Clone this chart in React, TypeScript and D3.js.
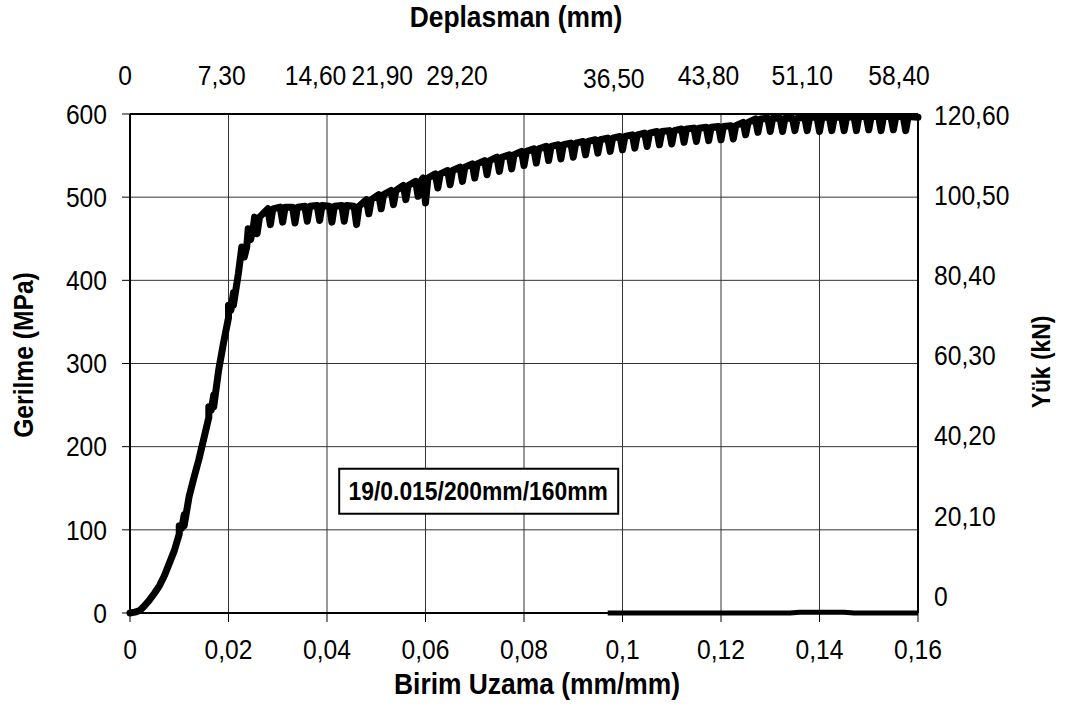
import React from "react";
import * as d3 from "d3";

// strain (mm/mm) vs stress (MPa), elastic rise
const riseStrain = [0, 0.001, 0.002, 0.003, 0.004, 0.005, 0.006, 0.007, 0.008, 0.009, 0.01, 0.011, 0.012, 0.013, 0.014, 0.015, 0.016, 0.017, 0.018, 0.019, 0.02, 0.021, 0.022];
const riseStress = [0, 1, 3, 9, 16, 24, 33, 45, 60, 75, 95, 118, 140, 163, 185, 210, 235, 262, 292, 325, 355, 385, 408];

// serrations: position of each dip, stress before the dip, stress at the bottom
const serrationStrain = [
  0.0105, 0.0165, 0.0205, 0.0232, 0.0245, 0.0258, 0.0285, 0.031, 0.0335, 0.036, 0.0385, 0.041, 0.0435, 0.046,
  0.0485, 0.051, 0.0535, 0.056, 0.0585, 0.06, 0.0625, 0.065, 0.0675, 0.07, 0.0725, 0.075, 0.0775, 0.08,
  0.0825, 0.085, 0.0875, 0.09, 0.0925, 0.095, 0.0975, 0.1, 0.1025, 0.105, 0.1075, 0.11, 0.1125, 0.115,
  0.1175, 0.12, 0.1225, 0.125, 0.1275, 0.13, 0.1325, 0.135, 0.1375, 0.14, 0.1425, 0.145, 0.1475, 0.15,
  0.1525, 0.155, 0.1575,
];
const serrationTop = [
  105, 248, 370, 440, 462, 476, 486, 488, 488, 489, 490, 489, 490, 489,
  497, 503, 508, 514, 519, 523, 528, 532, 536, 540, 544, 548, 551, 555,
  558, 561, 563, 565, 567, 569, 571, 573, 575, 577, 579, 580, 582, 583,
  584, 585, 586, 590, 594, 595, 595, 595, 596, 596, 596, 596, 597, 597,
  597, 597, 597,
];
const serrationBottom = [
  102, 244, 364, 428, 449, 456, 467, 470, 469, 471, 472, 470, 471, 467,
  480, 486, 491, 497, 501, 493, 511, 515, 519, 523, 527, 531, 534, 538,
  541, 544, 546, 548, 551, 553, 555, 557, 559, 561, 563, 564, 566, 567,
  568, 569, 570, 575, 578, 579, 579, 580, 580, 579, 580, 580, 580, 581,
  580, 581, 580,
];
const endStrain = [0.16];
const endStress = [596];

// flat trace lying on the zero line at the right
const zeroStrain = [0.097, 0.134, 0.136, 0.145, 0.147, 0.16];
const zeroStress = [0, 0, 1, 1, 0, 0];

const xTicks = [0, 0.02, 0.04, 0.06, 0.08, 0.1, 0.12, 0.14, 0.16];
const yTicks = [0, 100, 200, 300, 400, 500, 600];
const topLabels = [0, 7.3, 14.6, 21.9, 29.2, 36.5, 43.8, 51.1, 58.4];
const rightLabels = [0, 20.1, 40.2, 60.3, 80.4, 100.5, 120.6];

const W = 1065;
const H = 722;
const left = 130;
const right = 918;
const top = 114;
const bottom = 613;
const dipHalf = 0.0005;
const squeeze = 0.88;
// hand placed text boxes on the top axis in the original
const topShift = [0, 0, -3, -33, -55, 5, 3, 0, 0];
const topDrop = [0, 0, 0, 0, 0, 3, 0, 0, 0];

const comma = (v: number) => String(v).replace(".", ",");
const comma2 = (v: number) => (v === 0 ? "0" : v.toFixed(2).replace(".", ","));

type TProps = {
  x: number;
  y: number;
  size: number;
  anchor?: "start" | "middle" | "end";
  bold?: boolean;
  rotate?: number;
  dy?: string;
  children: React.ReactNode;
};

const T = ({ x, y, size, anchor = "middle", bold, rotate = 0, dy, children }: TProps) => (
  <text
    transform={`translate(${x},${y}) rotate(${rotate}) scale(${squeeze},1)`}
    textAnchor={anchor}
    fontSize={size}
    fontWeight={bold ? "bold" : "normal"}
    dy={dy}
  >
    {children}
  </text>
);

export default function App() {
  const x = d3.scaleLinear().domain([0, 0.16]).range([left, right]);
  const y = d3.scaleLinear().domain([0, 600]).range([bottom, top]);
  const xTop = d3.scaleLinear().domain([0, 58.4]).range([125, 899]);
  const yRight = d3.scaleLinear().domain([0, 120.6]).range([596, 115]);

  const pts: [number, number][] = riseStrain.map((s, i) => [s, riseStress[i]]);
  serrationStrain.forEach((s, i) => {
    pts.push([s - dipHalf, serrationTop[i]]);
    pts.push([s, serrationBottom[i]]);
    pts.push([s + dipHalf, serrationTop[i]]);
  });
  endStrain.forEach((s, i) => pts.push([s, endStress[i]]));
  pts.sort((a, b) => a[0] - b[0]);

  const zeroPts: [number, number][] = zeroStrain.map((s, i) => [s, zeroStress[i]]);

  const line = d3
    .line<[number, number]>()
    .x((d) => x(d[0]))
    .y((d) => y(d[1]));

  const font = "'Liberation Sans', Arial, sans-serif";

  return (
    <svg width={W} height={H} style={{ position: "absolute", left: 0, top: 0, background: "#fff" }} fontFamily={font}>
      <rect width={W} height={H} fill="#fff" />
      {/* grid */}
      {xTicks.slice(1, -1).map((t) => (
        <line key={"gx" + t} x1={x(t)} x2={x(t)} y1={top} y2={bottom} stroke="#333" strokeWidth={1} />
      ))}
      {yTicks.slice(1, -1).map((t) => (
        <line key={"gy" + t} x1={left} x2={right} y1={y(t)} y2={y(t)} stroke="#333" strokeWidth={1} />
      ))}
      {/* frame */}
      <line x1={left} x2={right} y1={top} y2={top} stroke="#000" strokeWidth={2} />
      <line x1={right} x2={right} y1={top} y2={bottom} stroke="#000" strokeWidth={2} />
      <line x1={left} x2={left} y1={top} y2={bottom} stroke="#000" strokeWidth={2} />
      <line x1={left} x2={right} y1={bottom} y2={bottom} stroke="#000" strokeWidth={2} />
      {/* ticks */}
      {xTicks.map((t) => (
        <g key={"xt" + t}>
          <line x1={x(t)} x2={x(t)} y1={bottom} y2={bottom + 9} stroke="#000" strokeWidth={1} />
          <T x={x(t)} y={659} size={28}>
            {comma(t)}
          </T>
        </g>
      ))}
      {yTicks.map((t) => (
        <g key={"yt" + t}>
          <line x1={left - 8} x2={left} y1={y(t)} y2={y(t)} stroke="#000" strokeWidth={1} />
          <T x={107} y={y(t)} dy="0.35em" anchor="end" size={28}>
            {t}
          </T>
        </g>
      ))}
      {topLabels.map((t, i) => (
        <T key={"tl" + t} x={xTop(t) + topShift[i]} y={85 + topDrop[i]} size={28}>
          {comma2(t)}
        </T>
      ))}
      {rightLabels.map((t) => (
        <T key={"rl" + t} x={934} y={yRight(t)} dy="0.35em" anchor="start" size={28}>
          {comma2(t)}
        </T>
      ))}
      {/* data */}
      <path d={line(zeroPts) ?? ""} fill="none" stroke="#000" strokeWidth={5} strokeLinejoin="round" />
      <path d={line(pts) ?? ""} fill="none" stroke="#000" strokeWidth={7} strokeLinejoin="round" strokeLinecap="round" />
      {/* label box */}
      <rect x={x(0.0707) - 139} y={y(147) - 22} width={279} height={45} fill="#fff" stroke="#000" strokeWidth={2} />
      <T x={x(0.0707)} y={y(147)} dy="0.36em" size={26} bold>
        19/0.015/200mm/160mm
      </T>
      {/* titles */}
      <T x={516} y={27} size={30} bold>
        Deplasman (mm)
      </T>
      <T x={537} y={694} size={30} bold>
        Birim Uzama (mm/mm)
      </T>
      <T x={33} y={355} size={28} bold rotate={-90}>
        Gerilme (MPa)
      </T>
      <T x={1050} y={362} size={26} bold rotate={-90}>
        Yük (kN)
      </T>
    </svg>
  );
}
